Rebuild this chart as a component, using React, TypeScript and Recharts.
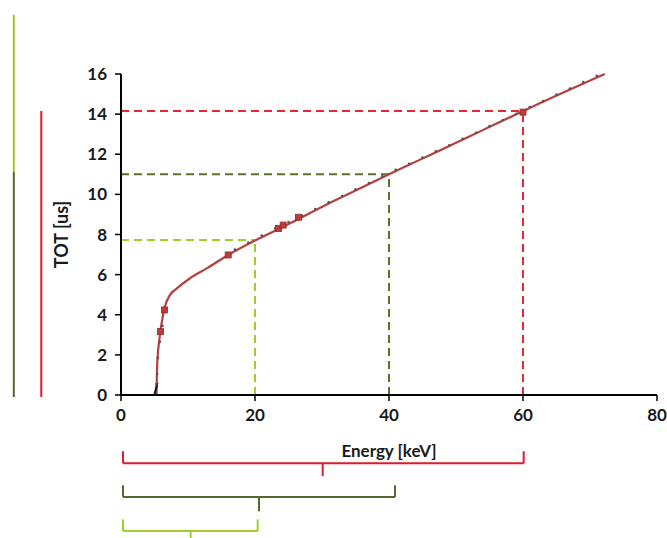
import React from "react";
import {
  ComposedChart,
  Line,
  Scatter,
  XAxis,
  YAxis,
  ReferenceLine,
  Label,
} from "recharts";

// Calibration curve (Energy [keV] -> TOT [us])
const curveEnergy = [5.3, 5.4, 5.7, 6.05, 6.55, 7.3, 8.3, 10.3, 12.8, 16, 20, 22.2, 25.7, 30.7, 35.7, 40, 43.6, 48.6, 53.6, 60, 62.5, 72.2];
const curveTot = [0, 1.5, 2.7, 3.55, 4.4, 4.98, 5.3, 5.82, 6.31, 6.98, 7.7, 8.06, 8.64, 9.5, 10.3, 11.0, 11.57, 12.35, 13.14, 14.15, 14.54, 16.0];

// Gray measured points
const grayEnergy = [5.3, 5.4, 5.5, 5.8, 6.2, 17, 19, 21, 23, 25, 27, 29, 31, 33, 35, 37, 39, 41, 43, 45, 47, 49, 51, 53, 55, 57, 59, 61, 63, 65, 67, 69, 71];
const grayTot = [0.5, 1.0, 1.8, 2.6, 3.4, 7.2, 7.55, 7.9, 8.25, 8.57, 8.9, 9.22, 9.55, 9.87, 10.2, 10.52, 10.85, 11.18, 11.48, 11.78, 12.1, 12.4, 12.72, 13.02, 13.35, 13.66, 13.97, 14.3, 14.6, 14.92, 15.23, 15.55, 15.86];

// Red square markers
const markEnergy = [5.9, 6.5, 16, 23.5, 24.2, 26.5, 60];
const markTot = [3.16, 4.24, 6.98, 8.3, 8.47, 8.86, 14.1];

// Black mark near origin
const lowEnergy = [5.0, 5.45];
const lowTot = [0.05, 0.6];

// Highlighted operating points
const guideEnergy = [20, 40, 60];
const guideTot = [7.72, 11.0, 14.15];
const guideColors = ["#9fcd2b", "#5b7325", "#e8253b"];

// Range brackets below axis (energy from, energy to, tip, top/bar/tipEnd levels in TOT units)
const bracketFrom = [0.3, 0.3, 0.3];
const bracketTo = [60.1, 40.9, 20.4];
const bracketMid = [30.1, 20.6, 10.4];
const bracketTop = [-2.8, -4.5, -6.2];
const bracketBar = [-3.4, -5.08, -6.78];
const bracketTip = [-4.05, -5.8, -7.2];
const bracketColors = ["#e0192d", "#55692a", "#9fcd2b"];

// Left side bars
const sideBarX = [-16, -16, -11.9];
const sideBarFrom = [11.12, -0.1, -0.1];
const sideBarTo = [18.95, 11.12, 14.16];
const sideBarColors = ["#9fc820", "#55672a", "#e0192d"];

const xTicks = [0, 20, 40, 60, 80];
const yTicks = [0, 2, 4, 6, 8, 10, 12, 14, 16];

const curveData = curveEnergy.map((e, i) => ({ e, t: curveTot[i] }));
const grayData = grayEnergy.map((e, i) => ({ e, t: grayTot[i] }));
const markData = markEnergy.map((e, i) => ({ e, t: markTot[i] }));
const lowData = lowEnergy.map((e, i) => ({ e, t: lowTot[i] }));

const font = "Lato, 'Open Sans', sans-serif";

const Square = (props: any) => {
  const { cx, cy } = props;
  if (cx == null || cy == null) return null;
  return <rect x={cx - 3} y={cy - 3} width={6} height={6} fill="#c0393b" stroke="#8e2a2c" strokeWidth={0.8} />;
};

const GrayDot = (props: any) => {
  const { cx, cy } = props;
  if (cx == null || cy == null) return null;
  return <circle cx={cx} cy={cy - 1} r={1.3} fill="#555" />;
};

export default function App() {
  const segs: React.ReactNode[] = [];
  guideEnergy.forEach((e, i) => {
    segs.push(
      <ReferenceLine key={`gh${i}`} ifOverflow="visible" segment={[{ x: 0, y: guideTot[i] }, { x: e, y: guideTot[i] }]} stroke={guideColors[i]} strokeWidth={2} strokeDasharray="8 5" />
    );
    segs.push(
      <ReferenceLine key={`gv${i}`} ifOverflow="visible" segment={[{ x: e, y: 0 }, { x: e, y: guideTot[i] }]} stroke={guideColors[i]} strokeWidth={2} strokeDasharray="8 5" />
    );
  });
  bracketFrom.forEach((f, i) => {
    const c = bracketColors[i];
    const t = bracketTo[i];
    segs.push(<ReferenceLine key={`bl${i}`} ifOverflow="visible" segment={[{ x: f, y: bracketTop[i] }, { x: f, y: bracketBar[i] }]} stroke={c} strokeWidth={2} />);
    segs.push(<ReferenceLine key={`bh${i}`} ifOverflow="visible" segment={[{ x: f, y: bracketBar[i] }, { x: t, y: bracketBar[i] }]} stroke={c} strokeWidth={2} />);
    segs.push(<ReferenceLine key={`br${i}`} ifOverflow="visible" segment={[{ x: t, y: bracketTop[i] }, { x: t, y: bracketBar[i] }]} stroke={c} strokeWidth={2} />);
    segs.push(<ReferenceLine key={`bm${i}`} ifOverflow="visible" segment={[{ x: bracketMid[i], y: bracketBar[i] }, { x: bracketMid[i], y: bracketTip[i] }]} stroke={c} strokeWidth={2} />);
  });
  sideBarX.forEach((x, i) => {
    segs.push(<ReferenceLine key={`sb${i}`} ifOverflow="visible" segment={[{ x, y: sideBarFrom[i] }, { x, y: sideBarTo[i] }]} stroke={sideBarColors[i]} strokeWidth={2} />);
  });

  return (
    <div style={{ position: "absolute", left: 0, top: 0, width: 667, height: 538, background: "#fff" }}>
      <ComposedChart width={667} height={538} margin={{ top: 74, right: 10, bottom: 83, left: 0 }}>
        <XAxis
          type="number"
          dataKey="e"
          domain={[0, 80]}
          ticks={xTicks}
          interval={0}
          height={60}
          axisLine={{ stroke: "#000", strokeWidth: 2 }}
          tickLine={{ stroke: "#000", strokeWidth: 1.5 }}
          tickSize={6}
          tickMargin={8}
          tick={{ fill: "#1a1a1a", fontSize: 17, fontWeight: 700, fontFamily: font }}
        >
          <Label value="Energy [keV]" position="insideBottom" offset={-2} style={{ fill: "#1a1a1a", fontSize: 17, fontWeight: 700, fontFamily: font }} />
        </XAxis>
        <YAxis
          type="number"
          dataKey="t"
          domain={[0, 16]}
          ticks={yTicks}
          interval={0}
          width={121}
          axisLine={{ stroke: "#000", strokeWidth: 2 }}
          tickLine={{ stroke: "#000", strokeWidth: 1.5 }}
          tickSize={6}
          tickMargin={8}
          tick={{ fill: "#1a1a1a", fontSize: 17, fontWeight: 700, fontFamily: font }}
        >
          <Label value="TOT [us]" angle={-90} position="insideLeft" offset={62} style={{ fill: "#1a1a1a", fontSize: 18, fontWeight: 700, fontFamily: font, textAnchor: "middle" }} />
        </YAxis>
        {segs}
        <Scatter data={grayData} dataKey="t" shape={GrayDot} isAnimationActive={false} />
        <Line data={curveData} dataKey="t" type="monotone" stroke="#b5403f" strokeWidth={2.2} dot={false} isAnimationActive={false} />
        <Line data={lowData} dataKey="t" type="linear" stroke="#111" strokeWidth={2} dot={false} isAnimationActive={false} />
        <Scatter data={markData} dataKey="t" shape={Square} isAnimationActive={false} />
      </ComposedChart>
    </div>
  );
}
